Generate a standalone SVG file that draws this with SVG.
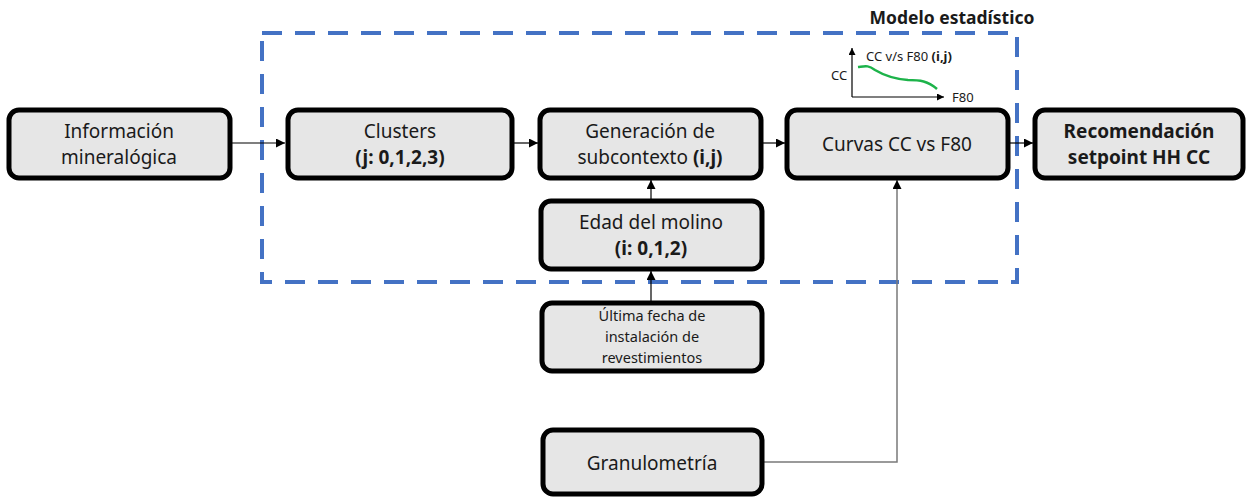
<svg xmlns="http://www.w3.org/2000/svg" width="1254" height="498" viewBox="0 0 1254 498">
<defs>
<style>
.box{fill:#e6e6e6;stroke:#000;stroke-width:5}
.t{font-family:"Noto Sans","Open Sans",sans-serif;font-size:19px;fill:#1a1a1a;text-anchor:middle}
.b{font-weight:bold}
.s{font-size:13px}
.m{font-size:14.5px}
.h{font-size:17.5px}
.l{text-anchor:start}
.c{stroke:#000;stroke-width:1.2;fill:none}
.g{stroke:#7a7a7a;stroke-width:1.5;fill:none}
</style>
<marker id="ah" viewBox="0 0 10 10" refX="10" refY="5" markerWidth="9" markerHeight="9" markerUnits="userSpaceOnUse" orient="auto"><path d="M0,0L10,5L0,10z" fill="#000"/></marker>
<marker id="ahs" viewBox="0 0 10 10" refX="10" refY="5" markerWidth="7" markerHeight="7" markerUnits="userSpaceOnUse" orient="auto"><path d="M0,0L10,5L0,10z" fill="#000"/></marker>
</defs>
<rect id="modelo" x="262" y="33" width="755" height="249" fill="none" stroke="#4472c4" stroke-width="4" stroke-dasharray="20 13"/>
<text class="t b h" x="952" y="24">Modelo estadístico</text>
<g id="connectors">
<path class="c" d="M230,143H285" marker-end="url(#ah)"/>
<path class="c" d="M513,143H538" marker-end="url(#ah)"/>
<path class="c" d="M761,143H785" marker-end="url(#ah)"/>
<path class="c" d="M1009,143H1033" marker-end="url(#ah)"/>
<path class="c" d="M651,200V180" marker-end="url(#ah)"/>
<path class="c" d="M651,302V271" marker-end="url(#ah)"/>
<path class="g" d="M763,462H897V180" marker-end="url(#ah)"/>
</g>
<g id="inset">
<path class="c" d="M852,97V48" marker-end="url(#ahs)"/>
<path class="c" d="M852,97H944" marker-end="url(#ahs)"/>
<path d="M858,67C866,66 868,65 875,70C885,76 895,79 908,80C920,80 928,81 937,89" fill="none" stroke="#1db34a" stroke-width="2.5"/>
<text class="t s l" x="866" y="61">CC v/s F80 <tspan class="b">(i,j)</tspan></text>
<text class="t s l" x="831" y="80">CC</text>
<text class="t s l" x="952" y="102">F80</text>
</g>
<g id="info"><rect class="box" x="9" y="110" width="221" height="68" rx="10"/><text class="t" x="119" y="138">Información</text><text class="t" x="119" y="164">mineralógica</text></g>
<g id="clusters"><rect class="box" x="288" y="110" width="224" height="68" rx="10"/><text class="t" x="400" y="138">Clusters</text><text class="t b" x="400" y="164">(j: 0,1,2,3)</text></g>
<g id="generacion"><rect class="box" x="540" y="110" width="221" height="68" rx="10"/><text class="t" x="650" y="138">Generación de</text><text class="t" x="650" y="164">subcontexto <tspan class="b">(i,j)</tspan></text></g>
<g id="curvas"><rect class="box" x="787" y="110" width="221" height="68" rx="10"/><text class="t" x="897" y="151">Curvas CC vs F80</text></g>
<g id="recomendacion"><rect class="box" x="1035" y="110" width="208" height="68" rx="10"/><text class="t b" x="1139" y="138">Recomendación</text><text class="t b" x="1139" y="164">setpoint HH CC</text></g>
<g id="edad"><rect class="box" x="541" y="201" width="221" height="68" rx="10"/><text class="t" x="651" y="229">Edad del molino</text><text class="t b" x="651" y="255">(i: 0,1,2)</text></g>
<g id="ultima"><rect class="box" x="542" y="303" width="220" height="68" rx="10"/><text class="t m" x="652" y="321">Última fecha de</text><text class="t m" x="652" y="342">instalación de</text><text class="t m" x="652" y="363">revestimientos</text></g>
<g id="granulometria"><rect class="box" x="543" y="430" width="219" height="64" rx="10"/><text class="t" x="652" y="470">Granulometría</text></g>
</svg>
